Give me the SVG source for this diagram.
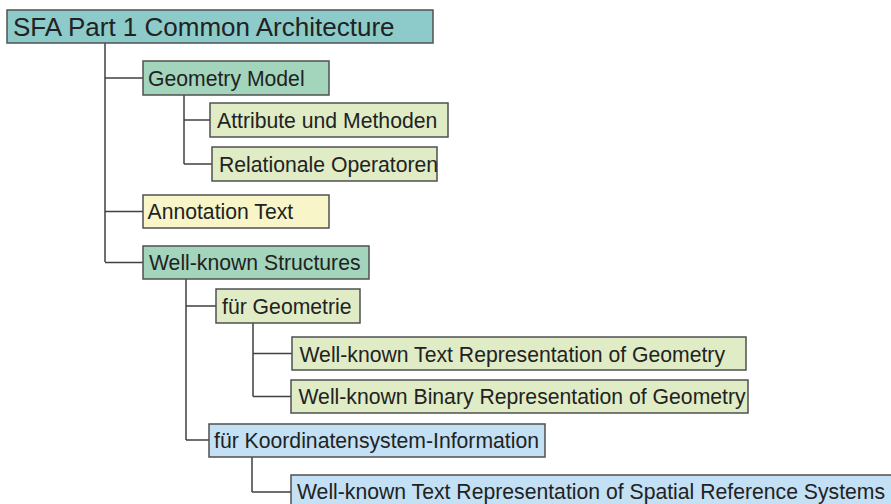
<svg xmlns="http://www.w3.org/2000/svg" width="891" height="504" viewBox="0 0 891 504">
<style>
.box{stroke:#505050;stroke-width:1.5}
.c0{fill:#8ccbc9}
.c1{fill:#a3d5bd}
.c2{fill:#e0ecc6}
.c3{fill:#f8f6c8}
.c4{fill:#c3e0f4}
text{font-family:"Liberation Sans",Arial,sans-serif;font-size:21.2px;fill:#222}
.t0{font-size:26px}
.conn{fill:none;stroke:#404040;stroke-width:1.5}
</style>
<rect width="891" height="504" fill="#ffffff"/>
<g id="connectors">
<path class="conn" d="M105,43 V262 M105,78 H143 M105,211.5 H143 M105,262.5 H143"/>
<path class="conn" d="M184,95 V164 M184,120 H210 M184,164 H212"/>
<path class="conn" d="M186,279 V440 M186,306 H216 M186,440 H209"/>
<path class="conn" d="M253,323 V396.5 M253,353.5 H292 M253,396.5 H291"/>
<path class="conn" d="M252,457 V492 M252,492 H291"/>
</g>
<g id="root"><rect class="box c0" x="7" y="10" width="426" height="33"/><text class="t0" x="13" y="35.5">SFA Part 1 Common Architecture</text></g>
<g id="geometry-model"><rect class="box c1" x="143" y="61" width="186" height="34"/><text x="148" y="85.5">Geometry Model</text></g>
<g id="attribute"><rect class="box c2" x="210" y="103" width="238" height="34"/><text x="217" y="127.5">Attribute und Methoden</text></g>
<g id="relationale"><rect class="box c2" x="212" y="147" width="225" height="34"/><text x="219" y="171.5">Relationale Operatoren</text></g>
<g id="annotation"><rect class="box c3" x="143" y="195" width="186" height="33"/><text x="147.5" y="219">Annotation Text</text></g>
<g id="wks"><rect class="box c1" x="143" y="246" width="226" height="33"/><text x="149" y="270">Well-known Structures</text></g>
<g id="fuer-geometrie"><rect class="box c2" x="216" y="289" width="144" height="34"/><text x="222" y="314">für Geometrie</text></g>
<g id="wkt-geometry"><rect class="box c2" x="292" y="337" width="454" height="33"/><text x="299.5" y="361.5">Well-known Text Representation of Geometry</text></g>
<g id="wkb-geometry"><rect class="box c2" x="291" y="380" width="457" height="33"/><text x="298.5" y="404">Well-known Binary Representation of Geometry</text></g>
<g id="fuer-koordinaten"><rect class="box c4" x="209" y="424" width="336" height="33"/><text x="214" y="447.5">für Koordinatensystem-Information</text></g>
<g id="wkt-srs"><rect class="box c4" x="291" y="475" width="620" height="34"/><text x="297" y="499">Well-known Text Representation of Spatial Reference Systems</text></g>
</svg>
